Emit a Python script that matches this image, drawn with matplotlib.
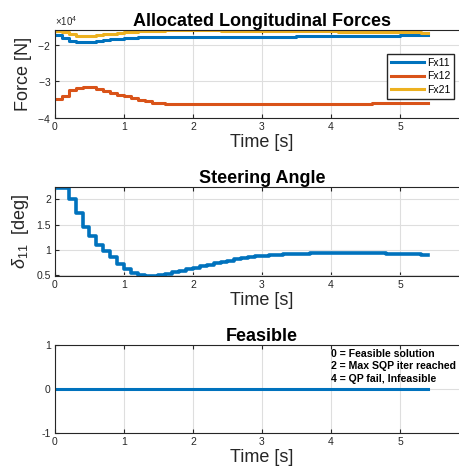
import numpy as np
import matplotlib
matplotlib.use('Agg')
from matplotlib import pyplot as plt
from matplotlib.ticker import ScalarFormatter

plt.rcParams['font.family'] = ['Liberation Sans', 'DejaVu Sans']
plt.rcParams['mathtext.fontset'] = 'custom'
plt.rcParams['mathtext.rm'] = 'Liberation Sans'
plt.rcParams['mathtext.it'] = 'Liberation Sans:italic'
plt.rcParams['axes.unicode_minus'] = False

# time grid (controller steps, 0.1 s)
t = np.round(np.arange(0, 5.45, 0.1), 1)

# allocated longitudinal forces [N]
fx11 = [-17200, -18200, -18900, -19300, -19300, -19100, -18900, -18700, -18500, -18300,
        -18100, -18000, -17950, -17900, -17850, -17820, -17800, -17800, -17800, -17800,
        -17800, -17800, -17780, -17780, -17760, -17760, -17750, -17750, -17740, -17740,
        -17730, -17720, -17710, -17700, -17690, -17680, -17670, -17660, -17650, -17640,
        -17630, -17610, -17590, -17570, -17550, -17530, -17500, -17480, -17450, -17420,
        -17400, -17370, -17340, -17300, -17200]
fx12 = [-34900, -34000, -32400, -31700, -31400, -31400, -32000, -32600, -33200, -33600,
        -34000, -34400, -35000, -35400, -35800, -36000, -36080, -36100, -36100, -36100,
        -36100, -36100, -36100, -36100, -36100, -36100, -36100, -36100, -36100, -36100,
        -36100, -36100, -36100, -36100, -36100, -36100, -36100, -36100, -36100, -36090,
        -36080, -36070, -36060, -36050, -36040, -36030, -36020, -36010, -36000, -35990,
        -35980, -35960, -35940, -35920, -35900]
fx21 = [-16300, -16400, -17000, -17500, -17600, -17500, -17300, -17100, -16900, -16700,
        -16500, -16350, -16250, -16150, -16080, -16040, -16020, -16000, -16000, -16000,
        -16000, -16010, -16020, -16030, -16040, -16050, -16060, -16070, -16080, -16090,
        -16100, -16120, -16140, -16160, -16180, -16200, -16220, -16240, -16260, -16280,
        -16300, -16320, -16340, -16360, -16380, -16400, -16420, -16440, -16460, -16480,
        -16500, -16530, -16560, -16600, -16650]

# steering angle [deg]
delta11 = [2.23, 2.23, 2.00, 1.72, 1.45, 1.27, 1.10, 0.97, 0.85, 0.73,
           0.62, 0.55, 0.51, 0.49, 0.49, 0.51, 0.53, 0.56, 0.59, 0.62,
           0.65, 0.68, 0.71, 0.74, 0.77, 0.79, 0.82, 0.84, 0.86, 0.87,
           0.88, 0.89, 0.90, 0.91, 0.915, 0.92, 0.925, 0.93, 0.935, 0.94,
           0.94, 0.94, 0.94, 0.94, 0.935, 0.935, 0.93, 0.93, 0.925, 0.92,
           0.92, 0.915, 0.91, 0.905, 0.90]

# solver exit flag
feasible = [0] * len(t)
flag_text = ['0 = Feasible solution', '2 = Max SQP iter reached', '4 = QP fail, Infeasible']

blue, red, yellow = '#0072BD', '#D95319', '#EDB120'
gray = '#262626'

fig = plt.figure(figsize=(4.6, 4.74), dpi=100)
W, H = 460, 474


def make_ax(top, bottom):
    ax = fig.add_axes([55 / W, 1 - bottom / H, 414 / W, (bottom - top) / H])
    ax.set_xlim(0, 6)
    ax.set_xticks(range(0, 6))
    ax.grid(True, color='#dedede', linewidth=0.8)
    ax.set_axisbelow(True)
    ax.tick_params(direction='in', top=True, right=True, labelsize=7.5,
                   colors=gray, length=3, pad=3)
    for s in ax.spines.values():
        s.set_color(gray)
        s.set_linewidth(0.8)
    ax.set_xlabel('Time [s]', fontsize=13, color=gray, labelpad=1)
    return ax


ax1 = make_ax(30, 118)
ax1.step(t, fx11, where='post', color=blue, lw=2.2, label='Fx11')
ax1.step(t, fx12, where='post', color=red, lw=2.2, label='Fx12')
ax1.step(t, fx21, where='post', color=yellow, lw=2.2, label='Fx21')
ax1.set_ylim(-40000, -15900)
ax1.set_yticks([-40000, -30000, -20000])
fmt = ScalarFormatter(useMathText=True)
fmt.set_powerlimits((0, 0))
ax1.yaxis.set_major_formatter(fmt)
ax1.yaxis.get_offset_text().set_fontsize(7)
ax1.yaxis.get_offset_text().set_color(gray)
ax1.set_ylabel('Force [N]', fontsize=13, color=gray, labelpad=4)
ax1.set_title('Allocated Longitudinal Forces', fontsize=13, fontweight='bold', pad=3)
ax1.legend(loc='upper left', bbox_to_anchor=(387 / W, 1 - 54 / H),
           bbox_transform=fig.transFigure, fontsize=7.5, frameon=True, fancybox=False,
           edgecolor=gray, handlelength=3.2, handletextpad=0.3, borderpad=0.35,
           labelspacing=0.35, borderaxespad=0, framealpha=1)

ax2 = make_ax(187, 276)
ax2.step(t, delta11, where='post', color=blue, lw=2.6)
ax2.set_ylim(0.485, 2.24)
ax2.set_yticks([0.5, 1, 1.5, 2])
ax2.set_yticklabels(['0.5', '1', '1.5', '2'])
ax2.set_ylabel(r'$\delta_{11}$  [deg]', fontsize=13, color=gray, labelpad=4)
ax2.set_title('Steering Angle', fontsize=13, fontweight='bold', pad=3)

ax3 = make_ax(345, 433)
ax3.step(t, feasible, where='post', color=blue, lw=2.2)
ax3.set_ylim(-1, 1)
ax3.set_yticks([-1, 0, 1])
ax3.set_title('Feasible', fontsize=13, fontweight='bold', pad=3)
for i, s in enumerate(flag_text):
    ax3.text(4.0, 0.8 - i * 0.285, s, fontsize=7.6, fontweight='bold', va='center')

fig.savefig('out.png', dpi=100)
